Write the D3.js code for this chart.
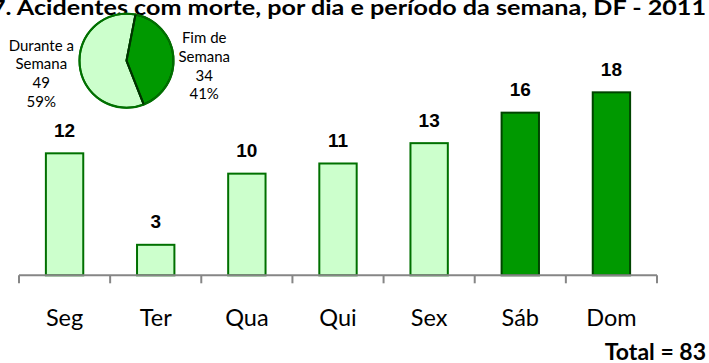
<!DOCTYPE html>
<html>
<head>
<meta charset="utf-8">
<script src="https://cdn.jsdelivr.net/npm/d3@7"></script>
<style>
  html, body { margin: 0; padding: 0; background: #fff; }
  svg { display: block; }
</style>
</head>
<body>
<svg id="chart" width="709" height="363"></svg>
<script>
// Fatal accidents by weekday, Distrito Federal, 2011
const days = ["Seg", "Ter", "Qua", "Qui", "Sex", "Sáb", "Dom"];
const deaths = [12, 3, 10, 11, 13, 16, 18];
const weekend = [false, false, false, false, false, true, true];

// Weekday vs weekend split
const periods = ["Durante a Semana", "Fim de Semana"];
const periodValues = [49, 34];
const periodShares = ["59%", "41%"];

const title = "7. Acidentes com morte, por dia e período da semana, DF - 2011";
const totalLabel = "Total = 83";

const sansFont = "Lato, 'Open Sans', sans-serif";
const numFont = "'Liberation Sans', Arial, sans-serif";

const lightFill = "#ccffcc", lightStroke = "#007000";
const darkFill = "#009900", darkStroke = "#004400";

const svg = d3.select("#chart");

const x = d3.scaleBand().domain(days).range([19, 657]).paddingInner(0.59).paddingOuter(0.295);
const y = d3.scaleLinear().domain([0, 20]).range([275.3, 72]);

// Bars
svg.append("g").selectAll("rect").data(days).join("rect")
  .attr("x", d => x(d))
  .attr("width", x.bandwidth())
  .attr("y", (d, i) => y(deaths[i]))
  .attr("height", (d, i) => y(0) - y(deaths[i]))
  .attr("fill", (d, i) => weekend[i] ? darkFill : lightFill)
  .attr("stroke", (d, i) => weekend[i] ? darkStroke : lightStroke)
  .attr("stroke-width", 2);

// Value labels
svg.append("g").selectAll("text").data(days).join("text")
  .attr("x", d => x(d) + x.bandwidth() / 2)
  .attr("y", (d, i) => y(deaths[i]) - 16.5)
  .attr("text-anchor", "middle")
  .attr("font-family", numFont)
  .attr("font-weight", "bold")
  .attr("font-size", 19)
  .attr("fill", "#000")
  .text((d, i) => deaths[i]);

// Category axis with ticks at band edges
const axisG = svg.append("g");
const x0 = x.range()[0], x1 = x.range()[1];
axisG.append("line")
  .attr("x1", x0).attr("x2", x1)
  .attr("y1", y(0)).attr("y2", y(0))
  .attr("stroke", "#868686").attr("stroke-width", 2);
const edges = days.map(d => x(d) - x.step() * x.paddingInner() / 2).concat([x1]);
edges[0] = x0;
axisG.selectAll("line.tick").data(edges).join("line")
  .attr("class", "tick")
  .attr("x1", d => d).attr("x2", d => d)
  .attr("y1", y(0)).attr("y2", y(0) + 8)
  .attr("stroke", "#868686").attr("stroke-width", 2);
axisG.selectAll("text").data(days).join("text")
  .attr("x", d => x(d) + x.bandwidth() / 2)
  .attr("y", 325.7)
  .attr("text-anchor", "middle")
  .attr("font-family", sansFont)
  .attr("font-size", 23.5)
  .attr("fill", "#000")
  .text(d => d);

// Total
svg.append("text")
  .attr("x", 706).attr("y", 360)
  .attr("text-anchor", "end")
  .attr("font-family", sansFont)
  .attr("font-weight", "bold")
  .attr("font-size", 23)
  .attr("fill", "#000")
  .text(totalLabel);

// Title
svg.append("text")
  .attr("x", 706).attr("y", 15)
  .attr("text-anchor", "end")
  .attr("font-family", sansFont)
  .attr("font-weight", "bold")
  .attr("font-size", 20)
  .attr("textLength", 715)
  .attr("lengthAdjust", "spacingAndGlyphs")
  .attr("fill", "#000")
  .text(title);

// Pie of weekday / weekend
const cx = 126.5, cy = 60.7, r = 47;
const startDeg = 158.5;
const pie = d3.pie().sort(null)
  .startAngle(startDeg * Math.PI / 180)
  .endAngle(startDeg * Math.PI / 180 + 2 * Math.PI);
const arc = d3.arc().innerRadius(0).outerRadius(r);
const pieG = svg.append("g").attr("transform", `translate(${cx},${cy})`);
pieG.selectAll("path").data(pie(periodValues)).join("path")
  .attr("d", arc)
  .attr("fill", (d, i) => i === 0 ? lightFill : darkFill)
  .attr("stroke", (d, i) => i === 0 ? lightStroke : darkStroke)
  .attr("stroke-width", 2)
  .attr("stroke-linejoin", "round");
// outer rim in the medium green
pieG.append("circle").attr("r", r).attr("fill", "none")
  .attr("stroke", lightStroke).attr("stroke-width", 2);
// divider lines
pieG.selectAll("line.div").data(pie(periodValues)).join("line")
  .attr("class", "div")
  .attr("x1", 0).attr("y1", 0)
  .attr("x2", d => r * Math.sin(d.startAngle))
  .attr("y2", d => -r * Math.cos(d.startAngle))
  .attr("stroke", "#003300").attr("stroke-width", 2);

// Pie labels
const pieLabels = [
  { cx: 41.3, y0: 50.7, lines: ["Durante a", "Semana", String(periodValues[0]), periodShares[0]] },
  { cx: 204.2, y0: 43.3, lines: ["Fim de", "Semana", String(periodValues[1]), periodShares[1]] }
];
pieLabels.forEach(lab => {
  const t = svg.append("text")
    .attr("text-anchor", "middle")
    .attr("font-family", sansFont)
    .attr("font-size", 15)
    .attr("fill", "#000");
  lab.lines.forEach((ln, k) => {
    t.append("tspan").attr("x", lab.cx).attr("y", lab.y0 + k * 18.7).text(ln);
  });
});
</script>
</body>
</html>
